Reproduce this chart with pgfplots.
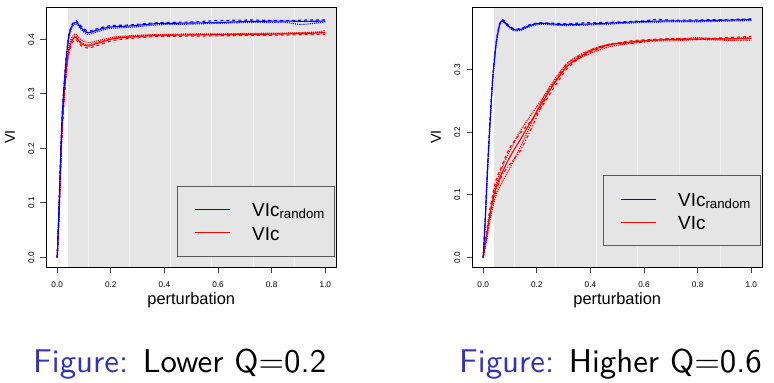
\documentclass[border=0pt]{standalone}
\usepackage{fontspec}
\setmainfont{Liberation Sans}
\newfontfamily\capfont{lmsans10-regular.otf}
\usepackage{pgfplots}
\pgfplotsset{compat=1.18}
\definecolor{bggray}{RGB}{229,229,229}
\definecolor{gridw}{RGB}{240,240,240}
\definecolor{rblue}{RGB}{0,0,255}
\definecolor{rred}{RGB}{255,0,0}
\definecolor{lblue}{RGB}{0,0,254}
\definecolor{lred}{RGB}{254,0,0}
\definecolor{struct}{RGB}{51,51,179}
\newcommand{\randsub}{\raisebox{-1.5bp}{\fontsize{13.3}{14}\selectfont random}}
\pgfplotsset{
  rplot/.style={
    width=289.5bp, height=260bp, scale only axis, anchor=south west,
    xmin=-0.04, xmax=1.04, axis on top,
    tick align=outside, xtick pos=left, ytick pos=left,
    major tick length=6bp,
    tick style={black!75, line width=0.8bp},
    axis line style={black, line width=0.9bp},
    /pgf/number format/assume math mode=true,
    xtick={0,0.2,0.4,0.6,0.8,1},
    xticklabels={0.0,0.2,0.4,0.6,0.8,1.0},
    ticklabel style={font=\fontsize{8.3}{9}\selectfont, inner sep=0pt},
    xticklabel style={anchor=north},
    yticklabel style={rotate=90, anchor=south},
    xticklabel shift=8.5bp, yticklabel shift=6bp,
    every axis x label/.style={at={([yshift=-38bp]rel axis cs:0.5,0)}, anchor=base, inner sep=0pt, font=\fontsize{16.5}{18}\selectfont},
    every axis y label/.style={at={([xshift=-31.5bp]rel axis cs:0,0.5)}, rotate=90, anchor=south, inner sep=0pt, font=\fontsize{14.5}{16}\selectfont},
    xlabel={perturbation}, ylabel={VI},
  },
  bl/.style={rblue, line width=1.1bp, smooth, tension=0.4},
  rl/.style={rred, line width=1.1bp, smooth, tension=0.4},
}
\tikzset{legtxt/.style={anchor=base west, inner sep=0pt, font=\fontsize{19}{22}\selectfont}}
\begin{document}
\begin{tikzpicture}
\path[use as bounding box] (0,0) rectangle (774bp,383bp);
% ---------------- left: Q = 0.2
\begin{axis}[rplot, at={(46.5bp,116bp)}, ymin=-0.0177, ymax=0.4594,
  ytick={0,0.1,0.2,0.3,0.4}, yticklabels={0.0,0.1,0.2,0.3,0.4}]
\fill[bggray] (axis cs:0.04,-0.0177) rectangle (axis cs:1.04,0.4594);
\draw[gridw, line width=0.8bp] (axis cs:0.118,-0.0177) -- (axis cs:0.118,0.4594);
\draw[gridw, line width=0.8bp] (axis cs:0.271,-0.0177) -- (axis cs:0.271,0.4594);
\draw[gridw, line width=0.8bp] (axis cs:0.424,-0.0177) -- (axis cs:0.424,0.4594);
\draw[gridw, line width=0.8bp] (axis cs:0.577,-0.0177) -- (axis cs:0.577,0.4594);
\draw[gridw, line width=0.8bp] (axis cs:0.731,-0.0177) -- (axis cs:0.731,0.4594);
\draw[gridw, line width=0.8bp] (axis cs:0.884,-0.0177) -- (axis cs:0.884,0.4594);
% legend (drawn first; no data crosses it)
\draw[black!65, line width=1bp, fill=bggray] (rel axis cs:0.4542,0.0423) rectangle (rel axis cs:0.9931,0.3115);
\addplot[lblue, line width=1bp] coordinates {(0.514,0.0869) (0.6446,0.0869)};
\addplot[lred, line width=1bp] coordinates {(0.514,0.0465) (0.6446,0.0465)};
\node[legtxt] at (rel axis cs:0.7098,0.1923) {VIc\randsub};
\node[legtxt] at (rel axis cs:0.7098,0.1038) {VIc};
% red bundle
\addplot[rl] coordinates {(0,0) (0.0087,0.108) (0.015,0.2) (0.021,0.26) (0.03,0.3217) (0.04,0.3706) (0.052,0.395) (0.068,0.404) (0.0896,0.392) (0.1144,0.3877) (0.1455,0.392) (0.208,0.401) (0.28,0.4045) (0.369,0.407) (0.5,0.408) (0.6,0.4085) (0.72,0.409) (0.85,0.410) (0.967,0.4116) (1.0,0.413)};
\addplot[rl, densely dotted] coordinates {(0,0) (0.0087,0.114) (0.015,0.207) (0.021,0.267) (0.03,0.328) (0.04,0.377) (0.052,0.401) (0.068,0.410) (0.0896,0.399) (0.1144,0.394) (0.1455,0.397) (0.208,0.404) (0.28,0.407) (0.369,0.409) (0.5,0.410) (0.6,0.410) (0.72,0.411) (0.85,0.4115) (0.967,0.4135) (1.0,0.4165)};
\addplot[rl, dashed] coordinates {(0,0) (0.0087,0.100) (0.015,0.192) (0.021,0.252) (0.03,0.315) (0.04,0.365) (0.052,0.390) (0.068,0.400) (0.0896,0.388) (0.1144,0.384) (0.1455,0.388) (0.208,0.398) (0.28,0.402) (0.369,0.405) (0.5,0.406) (0.6,0.4065) (0.72,0.407) (0.85,0.408) (0.967,0.409) (1.0,0.409)};
\addplot[rl, densely dotted] coordinates {(0,0) (0.0087,0.104) (0.015,0.196) (0.021,0.257) (0.03,0.319) (0.04,0.368) (0.052,0.397) (0.068,0.406) (0.0896,0.394) (0.1144,0.390) (0.1455,0.394) (0.208,0.402) (0.28,0.406) (0.369,0.408) (0.5,0.409) (0.6,0.4095) (0.72,0.410) (0.85,0.4105) (0.967,0.4125) (1.0,0.411)};
% blue bundle
\addplot[bl] coordinates {(0,0) (0.005,0.065) (0.011,0.157) (0.0175,0.248) (0.025,0.31) (0.0336,0.3645) (0.0436,0.407) (0.056,0.4257) (0.071,0.4318) (0.0896,0.4208) (0.1144,0.4122) (0.1455,0.4165) (0.195,0.4226) (0.27,0.4245) (0.37,0.4288) (0.5,0.430) (0.6,0.431) (0.72,0.433) (0.85,0.4335) (0.93,0.433) (1.0,0.4336)};
\addplot[bl, dashed] coordinates {(0,0) (0.005,0.070) (0.011,0.165) (0.0175,0.255) (0.025,0.316) (0.0336,0.368) (0.0436,0.410) (0.056,0.428) (0.071,0.434) (0.0896,0.424) (0.1144,0.415) (0.1455,0.419) (0.195,0.425) (0.27,0.4265) (0.37,0.4305) (0.5,0.432) (0.6,0.4345) (0.72,0.4355) (0.85,0.4345) (0.93,0.4355) (1.0,0.4355)};
\addplot[bl, densely dotted] coordinates {(0,0) (0.005,0.060) (0.011,0.150) (0.0175,0.240) (0.025,0.304) (0.0336,0.360) (0.0436,0.403) (0.056,0.423) (0.071,0.429) (0.0896,0.418) (0.1144,0.409) (0.1455,0.4135) (0.195,0.420) (0.27,0.422) (0.37,0.4265) (0.5,0.428) (0.6,0.4295) (0.72,0.431) (0.85,0.431) (0.9,0.4275) (0.93,0.428) (1.0,0.432)};
\end{axis}
% ---------------- right: Q = 0.6
\begin{axis}[rplot, at={(472.5bp,116bp)}, ymin=-0.0154, ymax=0.4001,
  ytick={0,0.1,0.2,0.3}, yticklabels={0.0,0.1,0.2,0.3}]
\fill[bggray] (axis cs:0.04,-0.0154) rectangle (axis cs:1.04,0.4001);
\draw[gridw, line width=0.8bp] (axis cs:0.116,-0.0154) -- (axis cs:0.116,0.4001);
\draw[gridw, line width=0.8bp] (axis cs:0.270,-0.0154) -- (axis cs:0.270,0.4001);
\draw[gridw, line width=0.8bp] (axis cs:0.424,-0.0154) -- (axis cs:0.424,0.4001);
\draw[gridw, line width=0.8bp] (axis cs:0.577,-0.0154) -- (axis cs:0.577,0.4001);
\draw[gridw, line width=0.8bp] (axis cs:0.731,-0.0154) -- (axis cs:0.731,0.4001);
\draw[gridw, line width=0.8bp] (axis cs:0.884,-0.0154) -- (axis cs:0.884,0.4001);
% legend (drawn first; no data crosses it)
\draw[black!65, line width=1bp, fill=bggray] (rel axis cs:0.4542,0.0808) rectangle (rel axis cs:0.9965,0.35);
\addplot[lblue, line width=1bp] coordinates {(0.514,0.0917) (0.6446,0.0917)};
\addplot[lred, line width=1bp] coordinates {(0.514,0.0565) (0.6446,0.0565)};
\node[legtxt] at (rel axis cs:0.7098,0.2308) {VIc\randsub};
\node[legtxt] at (rel axis cs:0.7098,0.1423) {VIc};
% red bundle
\addplot[rl] coordinates {(0,0) (0.014,0.038) (0.026,0.070) (0.045,0.108) (0.07,0.135) (0.1,0.161) (0.138,0.188) (0.182,0.220) (0.219,0.247) (0.262,0.276) (0.312,0.305) (0.362,0.321) (0.412,0.332) (0.474,0.340) (0.549,0.344) (0.623,0.347) (0.7,0.348) (0.8,0.349) (0.9,0.349) (1.0,0.350)};
\addplot[rl, dashed] coordinates {(0,0) (0.014,0.046) (0.026,0.080) (0.045,0.120) (0.07,0.147) (0.1,0.176) (0.138,0.198) (0.182,0.220) (0.219,0.241) (0.262,0.270) (0.312,0.301) (0.362,0.319) (0.412,0.330) (0.474,0.340) (0.549,0.346) (0.623,0.348) (0.7,0.350) (0.8,0.349) (0.9,0.351) (1.0,0.353)};
\addplot[rl, densely dotted] coordinates {(0,0) (0.014,0.030) (0.026,0.060) (0.045,0.096) (0.07,0.120) (0.1,0.143) (0.138,0.176) (0.182,0.216) (0.219,0.251) (0.262,0.282) (0.312,0.310) (0.362,0.324) (0.412,0.334) (0.474,0.341) (0.549,0.344) (0.623,0.346) (0.7,0.346) (0.8,0.348) (0.9,0.347) (1.0,0.347)};
\addplot[rl, densely dotted] coordinates {(0,0) (0.014,0.042) (0.026,0.076) (0.045,0.113) (0.07,0.143) (0.1,0.171) (0.138,0.202) (0.182,0.230) (0.219,0.253) (0.262,0.278) (0.312,0.305) (0.362,0.319) (0.412,0.328) (0.474,0.337) (0.549,0.342) (0.623,0.347) (0.7,0.348) (0.8,0.351) (0.9,0.349) (1.0,0.352)};
\addplot[rl, dashdotted] coordinates {(0,0) (0.014,0.034) (0.026,0.065) (0.045,0.102) (0.07,0.131) (0.1,0.149) (0.138,0.170) (0.182,0.208) (0.219,0.243) (0.262,0.278) (0.312,0.309) (0.362,0.323) (0.412,0.333) (0.474,0.341) (0.549,0.342) (0.623,0.345) (0.7,0.349) (0.8,0.348) (0.9,0.350) (1.0,0.349)};
% blue bundle
\addplot[bl] coordinates {(0,0) (0.0075,0.06) (0.016,0.14) (0.026,0.22) (0.036,0.289) (0.0485,0.343) (0.061,0.372) (0.072,0.3787) (0.088,0.372) (0.113,0.364) (0.138,0.364) (0.175,0.3707) (0.213,0.374) (0.3,0.372) (0.4,0.373) (0.5,0.375) (0.6,0.377) (0.7,0.378) (0.8,0.378) (0.9,0.379) (1.0,0.380)};
\addplot[bl, dashed] coordinates {(0,0) (0.0075,0.064) (0.016,0.145) (0.026,0.225) (0.036,0.292) (0.0485,0.345) (0.061,0.3735) (0.072,0.380) (0.088,0.3735) (0.113,0.3655) (0.138,0.3655) (0.175,0.372) (0.213,0.375) (0.3,0.3735) (0.4,0.375) (0.5,0.376) (0.6,0.378) (0.65,0.3805) (0.7,0.379) (0.8,0.3795) (0.9,0.380) (1.0,0.381)};
\addplot[bl, densely dotted] coordinates {(0,0) (0.0075,0.056) (0.016,0.135) (0.026,0.215) (0.036,0.286) (0.0485,0.341) (0.061,0.3705) (0.072,0.3775) (0.088,0.3705) (0.113,0.3625) (0.138,0.3625) (0.175,0.369) (0.213,0.3725) (0.3,0.3705) (0.4,0.3715) (0.5,0.3735) (0.6,0.3755) (0.7,0.3765) (0.8,0.3765) (0.9,0.3775) (1.0,0.3785)};
\end{axis}
% captions
\node[anchor=base west, inner sep=0pt, font=\capfont\fontsize{33}{40}\selectfont] at (33bp,11bp) {\textcolor{struct}{Figure:} Lower Q=0.2};
\node[anchor=base west, inner sep=0pt, font=\capfont\fontsize{33}{40}\selectfont] at (459bp,11bp) {\textcolor{struct}{Figure:} Higher Q=0.6};
\end{tikzpicture}
\end{document}
